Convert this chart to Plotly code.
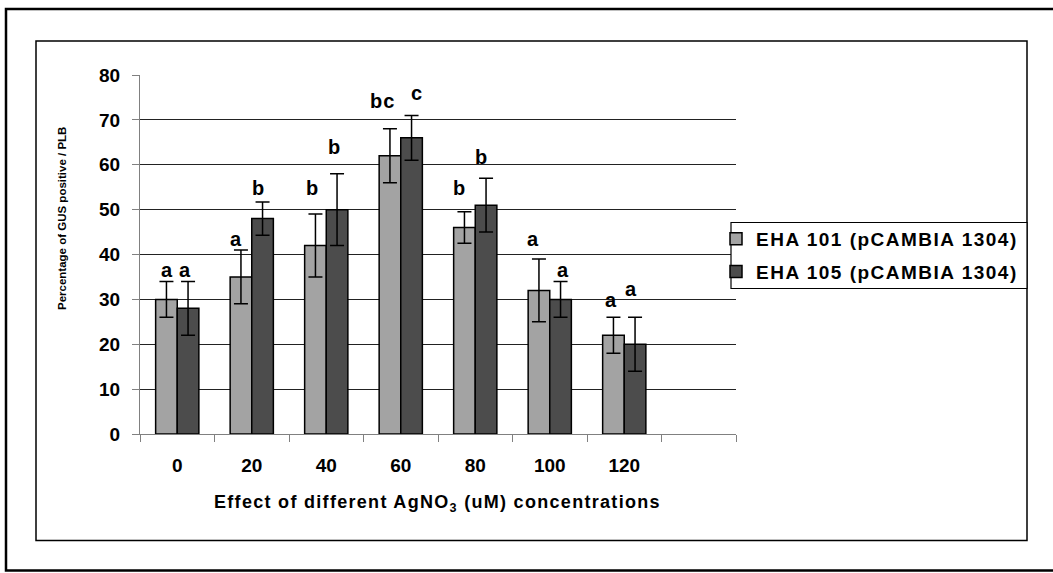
import plotly.graph_objects as go

# ---- data ----
concentrations = ["0", "20", "40", "60", "80", "100", "120"]
eha101 = [30, 35, 42, 62, 46, 32, 22]
eha101_err = [4, 6, 7, 6, 3.5, 7, 4]
eha105 = [28, 48, 50, 66, 51, 30, 20]
eha105_err = [6, 3.7, 8, 5, 6, 4, 6]
eha101_letters = ["a", "a", "b", "bc", "b", "a", "a"]
eha105_letters = ["a", "b", "b", "c", "b", "a", "a"]
series_names = ["EHA 101 (pCAMBIA 1304)", "EHA 105 (pCAMBIA 1304)"]

# ---- label placement (layout only) ----
eha101_letter_y = [36.6, 43.4, 54.8, 74.1, 54.8, 43.4, 29.8]
eha105_letter_y = [36.6, 54.8, 63.9, 75.9, 61.8, 36.6, 32.3]
eha101_letter_dx = [1, -5, -3, -7, -5, -6, -2]
eha105_letter_dx = [-3, -4, -3, 5, -5, 2, -4]

FONT = "Liberation Sans, Arial, sans-serif"
LIGHT = "#A3A3A3"
DARK = "#4C4C4C"
BARGAP = 0.42

W, H = 1053, 573
L, R, T, B = 140, 1053 - 736, 75, 573 - 434
pw, ph = W - L - R, H - T - B


def px_x(x):
    return (x - L) / pw


def px_y(y):
    return (H - B - y) / ph


def spaced(s, sp):
    return '<span style="letter-spacing:%spx">%s</span>' % (sp, s)


xpos = list(range(len(concentrations)))

fig = go.Figure()
fig.add_trace(go.Bar(
    x=xpos, y=eha101, name=spaced(series_names[0], 1.5), legendgroup="g1",
    marker=dict(color=LIGHT, line=dict(color="#000000", width=1.5)),
    error_y=dict(type="data", array=eha101_err, visible=True,
                 color="#000000", thickness=1.5, width=7),
))
fig.add_trace(go.Bar(
    x=xpos, y=eha105, name=spaced(series_names[1], 1.5), legendgroup="g2",
    marker=dict(color=DARK, line=dict(color="#000000", width=1.5)),
    error_y=dict(type="data", array=eha105_err, visible=True,
                 color="#000000", thickness=1.5, width=7),
))

off = (1 - BARGAP) / 4
LF = dict(family=FONT, size=20, color="#000", weight="bold")
annos = []
for i in range(len(concentrations)):
    annos.append(dict(x=xpos[i] - off, y=eha101_letter_y[i], text=spaced(eha101_letters[i], 1),
                      xshift=eha101_letter_dx[i], showarrow=False, xref="x", yref="y",
                      xanchor="center", yanchor="middle", font=LF))
    annos.append(dict(x=xpos[i] + off, y=eha105_letter_y[i], text=spaced(eha105_letters[i], 1),
                      xshift=eha105_letter_dx[i], showarrow=False, xref="x", yref="y",
                      xanchor="center", yanchor="middle", font=LF))

annos.append(dict(x=px_x(62), y=px_y(219), xref="paper", yref="paper", showarrow=False,
                  xanchor="center", yanchor="middle",
                  textangle=-90, text="Percentage of GUS positive / PLB",
                  font=dict(family=FONT, size=11.5, color="#000", weight="bold")))
annos.append(dict(x=px_x(437.5), y=px_y(503), xref="paper", yref="paper", showarrow=False,
                  xanchor="center", yanchor="middle",
                  text=spaced("Effect of different AgNO<sub>3</sub> (uM) concentrations", 1.3),
                  font=dict(family=FONT, size=18, color="#000", weight="bold")))

shapes = [
    dict(type="rect", xref="paper", yref="paper", x0=px_x(6), x1=px_x(1060),
         y0=px_y(570.5), y1=px_y(9), line=dict(color="#000", width=2.5), layer="below"),
    dict(type="rect", xref="paper", yref="paper", x0=px_x(36), x1=px_x(1027),
         y0=px_y(540.5), y1=px_y(41), line=dict(color="#000", width=1.5), layer="below"),
    dict(type="rect", xref="paper", yref="paper", x0=px_x(731), x1=px_x(1027),
         y0=px_y(288.5), y1=px_y(222.5), line=dict(color="#000", width=1.2),
         fillcolor="#FFFFFF", layer="above"),
]

fig.update_layout(
    width=W, height=H,
    margin=dict(l=L, r=R, t=T, b=B),
    paper_bgcolor="#FFFFFF", plot_bgcolor="#FFFFFF",
    barmode="group", bargap=BARGAP, bargroupgap=0,
    font=dict(family=FONT, color="#000"),
    showlegend=True,
    legend=dict(x=px_x(716), y=px_y(220), xanchor="left", yanchor="top",
                bgcolor="rgba(0,0,0,0)", borderwidth=0, tracegroupgap=5,
                font=dict(family=FONT, size=19, color="#000", weight="bold")),
    annotations=annos,
    shapes=shapes,
)
fig.update_xaxes(
    range=[-0.5, 7.5], tickmode="array", tickvals=xpos, ticktext=concentrations,
    ticks="", showgrid=False, zeroline=False, showline=True, linecolor="#808080", linewidth=1,
    tickfont=dict(family=FONT, size=19, color="#000", weight="bold"),
    ticklabelstandoff=14,
    minor=dict(tickmode="array", tickvals=[k - 0.5 for k in range(9)], ticks="outside",
               ticklen=7, tickcolor="#808080", tickwidth=1, showgrid=False),
)
fig.update_yaxes(
    range=[0, 80], dtick=10, tick0=0, showgrid=True, gridcolor="#222222", gridwidth=1,
    zeroline=False, showline=True, linecolor="#808080", linewidth=1,
    ticks="outside", ticklen=7, tickcolor="#808080",
    tickfont=dict(family=FONT, size=19, color="#000", weight="bold"),
    ticklabelstandoff=8,
)

fig.write_html("out.html")
